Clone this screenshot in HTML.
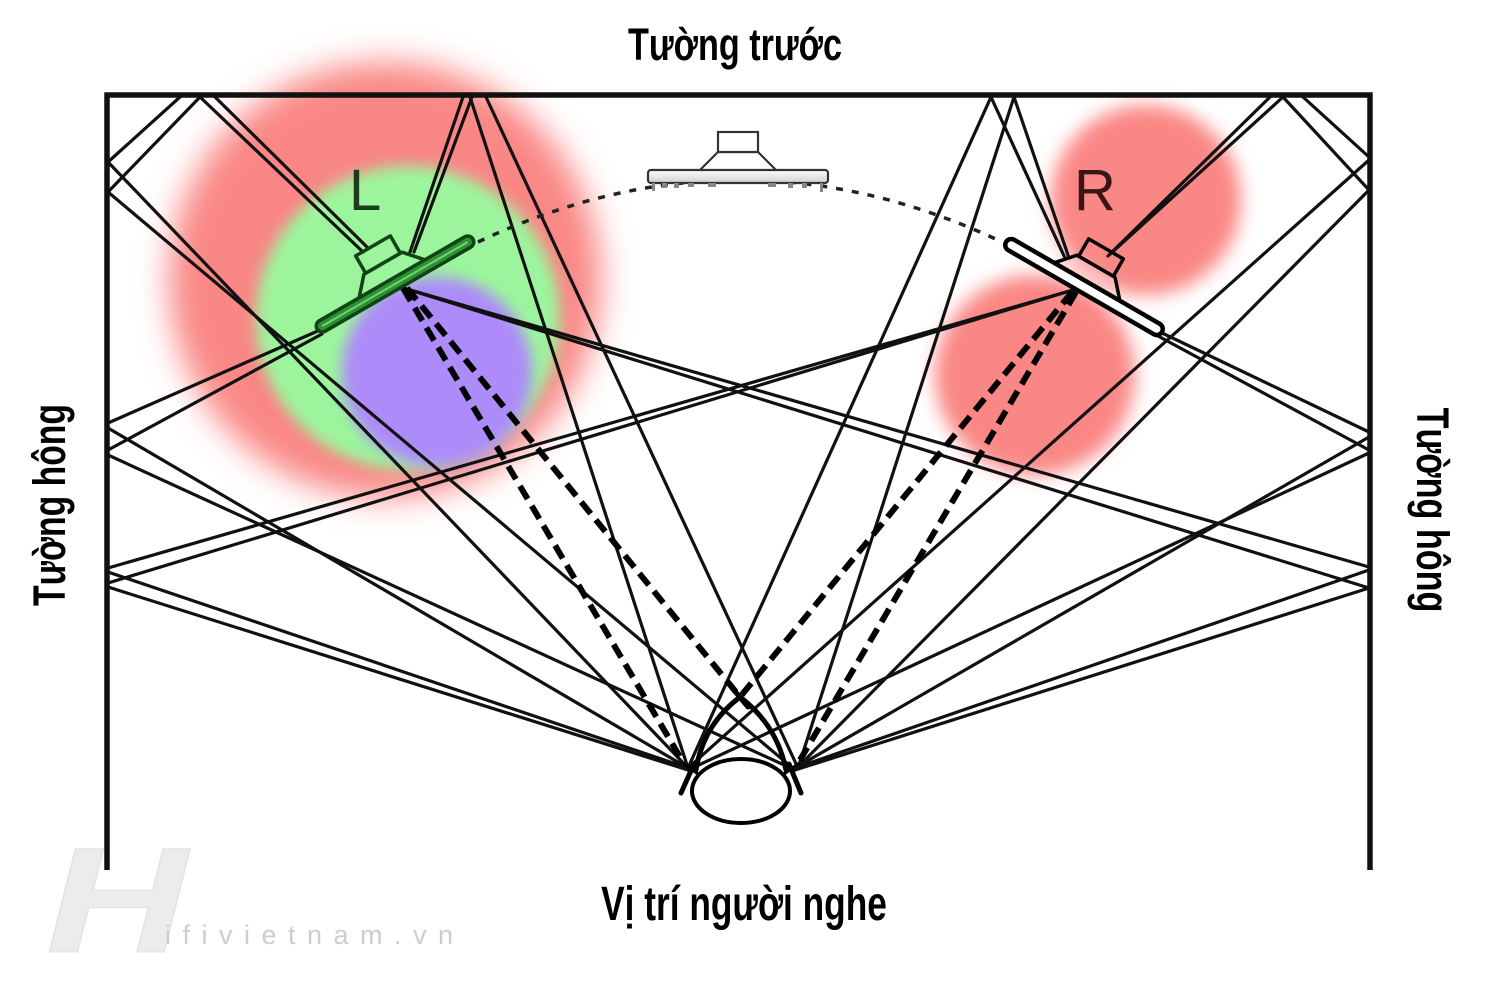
<!DOCTYPE html>
<html>
<head>
<meta charset="utf-8">
<style>
html,body{margin:0;padding:0;background:#fff;}
svg{display:block;}
text{font-family:"Liberation Sans","DejaVu Sans",sans-serif;}
</style>
</head>
<body>
<svg width="1490" height="988" viewBox="0 0 1490 988" xmlns="http://www.w3.org/2000/svg">
<defs>
<filter id="bR" x="-30%" y="-30%" width="160%" height="160%"><feGaussianBlur stdDeviation="16"/></filter>
<filter id="bG" x="-30%" y="-30%" width="160%" height="160%"><feGaussianBlur stdDeviation="7"/></filter>
<filter id="bS" x="-30%" y="-30%" width="160%" height="160%"><feGaussianBlur stdDeviation="9"/></filter>
<linearGradient id="barg" x1="0" y1="0" x2="0" y2="1">
<stop offset="0" stop-color="#ffffff"/><stop offset="1" stop-color="#cfcfcf"/>
</linearGradient>
</defs>

<!-- colour blobs -->
<ellipse cx="385" cy="280" rx="216" ry="218" fill="#f98785" filter="url(#bR)"/>
<circle cx="408" cy="318" r="152" fill="#9cf59c" filter="url(#bG)"/>
<circle cx="437" cy="372" r="95" fill="#ad8bf9" filter="url(#bG)"/>
<circle cx="1146" cy="200" r="95" fill="#f98785" filter="url(#bS)"/>
<circle cx="1035" cy="375" r="100" fill="#f98785" filter="url(#bS)"/>

<!-- walls -->
<g stroke="#111" stroke-width="5.5" fill="none" stroke-linecap="butt">
<path d="M107 870 L107 95 L1370 95 L1370 870"/>
</g>

<!-- reflection lines -->
<g stroke="#111" stroke-width="3.2" fill="none" stroke-linecap="round">
<path d="M400 287 L1369 567"/>
<path d="M400 287 L1369 588"/>
<path d="M1073 290 L108 568"/>
<path d="M1073 290 L108 583"/>
<path d="M108 572 L688 768"/>
<path d="M108 587 L688 770"/>
<path d="M1369 570 L795 768"/>
<path d="M1369 588 L795 770"/>
<path d="M320 330 L108 423"/>
<path d="M322 334 L108 450"/>
<path d="M108 428 L688 768"/>
<path d="M108 455 L795 770"/>
<path d="M1160 332 L1369 432"/>
<path d="M1158 336 L1369 450"/>
<path d="M1369 437 L795 768"/>
<path d="M1369 453 L688 770"/>
<path d="M363 252 L200 97"/>
<path d="M368 248 L215 97"/>
<path d="M180 97 L108 162"/>
<path d="M200 97 L108 192"/>
<path d="M108 162 L688 768"/>
<path d="M108 192 L795 770"/>
<path d="M1112 252 L1270 97"/>
<path d="M1108 256 L1283 97"/>
<path d="M1303 97 L1369 157"/>
<path d="M1283 97 L1369 190"/>
<path d="M1369 160 L688 768"/>
<path d="M1369 190 L797 768"/>
<path d="M410 252 L463 97"/>
<path d="M414 252 L472 97"/>
<path d="M470 97 L688 768"/>
<path d="M486 97 L798 768"/>
<path d="M1065 258 L991 97"/>
<path d="M1069 258 L1014 97"/>
<path d="M991 97 L688 768"/>
<path d="M1014 97 L798 768"/>
</g>

<!-- direct dashed lines -->
<g stroke="#000" stroke-width="6" fill="none" stroke-dasharray="15 8">
<path d="M403 288 L683 762"/>
<path d="M407 288 L740 697"/>
<path d="M1072 292 L740 697"/>
<path d="M1076 292 L800 760"/>
</g>

<!-- dotted arc -->
<path d="M478 242 Q740 118 1002 242" stroke="#222" stroke-width="3.5" fill="none" stroke-dasharray="7 9"/>

<!-- centre speaker -->
<g transform="translate(738,176)" stroke="#333" stroke-width="2.2">
<polyline points="-38,-6 -20,-24 20,-24 38,-6" fill="#fff"/>
<rect x="-20" y="-44" width="40" height="20" fill="#fff"/>
<rect x="-90" y="-6" width="180" height="13" rx="3" fill="url(#barg)"/>
<g fill="#888" stroke="none">
<rect x="-86" y="7" width="3" height="8"/><rect x="-76" y="7" width="5" height="5"/><rect x="-64" y="7" width="5" height="5"/>
<rect x="-50" y="7" width="6" height="4"/><rect x="-30" y="7" width="8" height="4"/><rect x="30" y="7" width="8" height="4"/>
<rect x="50" y="7" width="5" height="5"/><rect x="64" y="7" width="5" height="5"/><rect x="82" y="7" width="3" height="9"/>
</g>
</g>

<!-- L speaker -->
<g transform="translate(395,284) rotate(-30)" stroke="#0f4414" stroke-width="3.5" fill="none" stroke-linejoin="round">
<polyline points="-38,-6 -22,-24 22,-24 38,-6"/>
<rect x="-20" y="-44" width="40" height="20"/>
<rect x="-90" y="-6" width="180" height="12" rx="6" fill="#2f8f35"/>
<line x1="-84" y1="0" x2="84" y2="0" stroke="#6fd36f" stroke-width="2"/>
</g>

<!-- R speaker -->
<g transform="translate(1084,287) rotate(30)" stroke="#000" stroke-width="3.5" fill="none" stroke-linejoin="round">
<polyline points="-38,-6 -22,-24 22,-24 38,-6" fill="rgba(255,200,200,0.5)"/>
<rect x="-20" y="-44" width="40" height="20"/>
<rect x="-90" y="-6" width="180" height="12" rx="6" fill="#fff" stroke-width="4.5"/>
</g>

<!-- labels L R -->
<text x="349" y="210" font-size="58" fill="#1d3b1d">L</text>
<text x="1074" y="210" font-size="58" fill="#3a1515">R</text>

<!-- head -->
<g stroke="#000" fill="none" stroke-linecap="round">
<ellipse cx="741" cy="791" rx="49" ry="32" fill="#fff" stroke-width="4"/>
<path d="M696 770 Q703 725 740 697 Q777 725 786 770" stroke-width="5"/>
<line x1="733" y1="689" x2="748" y2="707" stroke-width="5"/>
<line x1="681" y1="793" x2="694" y2="764" stroke-width="5"/>
<line x1="684" y1="764" x2="698" y2="774" stroke-width="3"/>
<line x1="801" y1="793" x2="789" y2="764" stroke-width="5"/>
<line x1="798" y1="764" x2="784" y2="774" stroke-width="3"/>
</g>

<!-- wall labels -->
<g font-weight="bold" fill="#000">
<text x="0" y="0" transform="translate(735,60) scale(0.76,1)" text-anchor="middle" font-size="45">Tường trước</text>
<text x="0" y="0" transform="translate(744,920) scale(0.735,1)" text-anchor="middle" font-size="48">Vị trí người nghe</text>
<text x="0" y="0" transform="translate(65,505) rotate(-90) scale(0.75,1)" text-anchor="middle" font-size="45">Tường hông</text>
<text x="0" y="0" transform="translate(1417,510) rotate(90) scale(0.76,1)" text-anchor="middle" font-size="45">Tường hông</text>
</g>

<!-- logo -->
<text x="0" y="0" transform="translate(46,952) scale(1.3,1)" font-family="Liberation Serif, serif" font-style="italic" font-weight="bold" font-size="150" fill="#ececec" stroke="#e0e0e0" stroke-width="1">H</text>
<text x="165" y="944" font-size="27" fill="#cdcdcd" textLength="288" lengthAdjust="spacing">ifivietnam.vn</text>
</svg>
</body>
</html>
